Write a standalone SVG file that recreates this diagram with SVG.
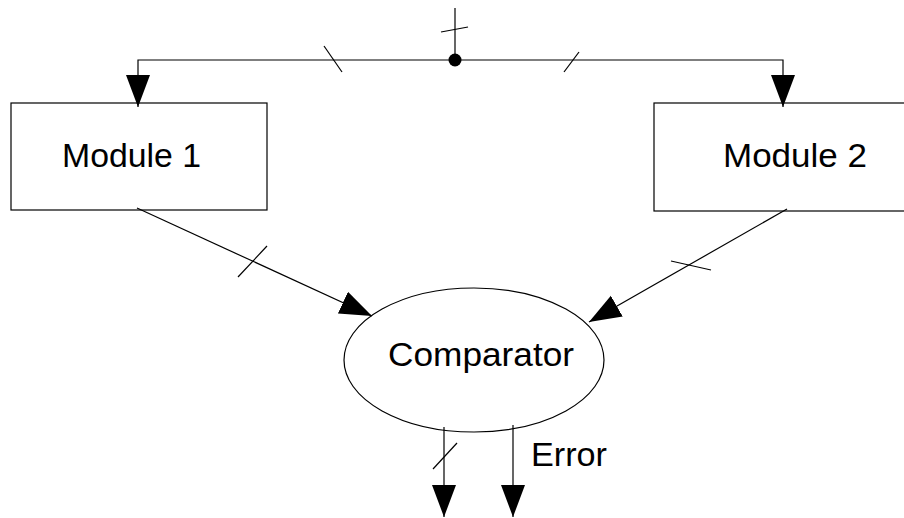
<svg xmlns="http://www.w3.org/2000/svg" width="904" height="518" viewBox="0 0 904 518">
  <style>
    .wire { fill: none; stroke: #000; stroke-width: 1.2; }
    .tick { fill: none; stroke: #000; stroke-width: 1.2; }
    .shape { fill: #fff; stroke: #000; stroke-width: 1.2; }
    .label { font-family: "Liberation Sans", Arial, sans-serif; font-size: 34px; fill: #000; }
  </style>
  <defs>
    <marker id="arrow" markerUnits="userSpaceOnUse" markerWidth="33" markerHeight="25" refX="32" refY="12" orient="auto">
      <path d="M0,0 L32,12 L0,24 Z" fill="#000"/>
    </marker>
  </defs>

  <rect width="904" height="518" fill="#fff"/>

  <g id="module1">
    <rect class="shape" x="11" y="103" width="256" height="107"/>
    <text class="label" x="62" y="167" textLength="139" lengthAdjust="spacingAndGlyphs">Module 1</text>
  </g>

  <g id="module2">
    <rect class="shape" x="654" y="103" width="260" height="108"/>
    <text class="label" x="723" y="167" textLength="144" lengthAdjust="spacingAndGlyphs">Module 2</text>
  </g>

  <g id="comparator">
    <ellipse class="shape" cx="474" cy="360" rx="130" ry="72"/>
    <text class="label" x="388" y="366" textLength="186" lengthAdjust="spacingAndGlyphs">Comparator</text>
  </g>

  <g id="connectors">
    <!-- input bus split to both modules -->
    <line class="wire" x1="455" y1="8" x2="455" y2="60"/>
    <line class="tick" x1="441" y1="32" x2="468" y2="27"/>
    <polyline class="wire" points="455,60 138,60 138,107" marker-end="url(#arrow)"/>
    <polyline class="wire" points="455,60 783,60 783,107" marker-end="url(#arrow)"/>
    <circle cx="455" cy="60" r="6.5" fill="#000"/>
    <line class="tick" x1="324" y1="46" x2="342" y2="72"/>
    <line class="tick" x1="579" y1="52" x2="564" y2="72"/>

    <!-- module outputs into comparator -->
    <line class="wire" x1="137" y1="208" x2="372" y2="316" marker-end="url(#arrow)"/>
    <line class="tick" x1="238" y1="277" x2="267" y2="246"/>
    <line class="wire" x1="787" y1="209" x2="589" y2="322" marker-end="url(#arrow)"/>
    <line class="tick" x1="671" y1="261" x2="711" y2="270"/>

    <!-- comparator outputs -->
    <line class="wire" x1="444" y1="427" x2="444" y2="517" marker-end="url(#arrow)"/>
    <line class="tick" x1="433" y1="469" x2="457" y2="443"/>
    <line class="wire" x1="513" y1="425" x2="513" y2="517" marker-end="url(#arrow)"/>
    <text class="label" x="531" y="466" textLength="76" lengthAdjust="spacingAndGlyphs">Error</text>
  </g>
</svg>
